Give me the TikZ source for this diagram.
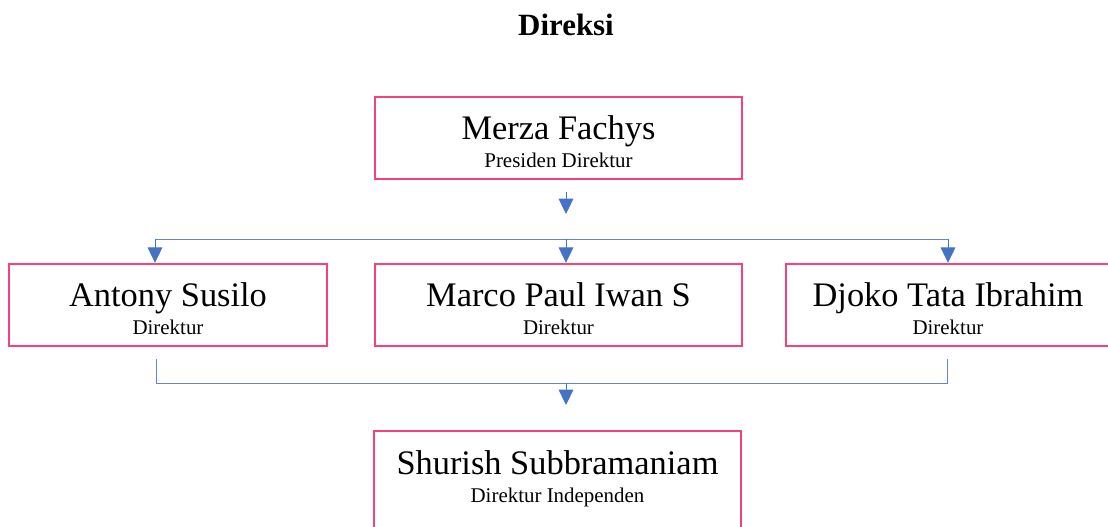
\documentclass[tikz,border=0pt]{standalone}
\usepackage{fontspec}
\setmainfont{Liberation Serif}
\usetikzlibrary{arrows.meta}

\definecolor{boxpink}{HTML}{F7407E}
\definecolor{linkblue}{HTML}{4472C4}

\newcommand{\rolefont}{\fontsize{15.7}{21}\selectfont}
\newcommand{\person}[3][3.5pt]{\rule{0pt}{26pt}#2\\{\rolefont #3\rule[-#1]{0pt}{#1}}}

\tikzstyle{block}=[rectangle,draw=boxpink,line width=1.8pt,fill=white,align=center,
font=\fontsize{25.8}{21}\selectfont,minimum width=275.25pt,minimum height=61.5pt,inner sep=0pt]
\tikzstyle{line} = [draw, line width=0.75pt, color=linkblue!85]
\tikzstyle{arrow} = [line, color=linkblue, -{Triangle[width=11pt,length=11.5pt]}]
\tikzstyle{title} = [anchor=base, font=\fontsize{23.2}{28}\selectfont\bfseries]

\begin{document}
\begin{tikzpicture}[x=0.75pt,y=-0.75pt]
\useasboundingbox (0,0) rectangle (1108,526);
\clip (0,0) rectangle (1108,526);
\node [title] (heading) at (566,35) {Direksi};
\node [block] (president) at (558.5,138) {\person{Merza Fachys}{Presiden Direktur}};
\node [block,minimum width=238.5pt] (antony) at (168,305) {\person{Antony Susilo}{Direktur}};
\node [block] (marco) at (558.5,305) {\person{Marco Paul Iwan S}{Direktur}};
\node [block,minimum width=243pt] (djoko) at (948,305) {\person{Djoko Tata Ibrahim}{Direktur}};
\node [block,minimum height=93.75pt] (shurish) at (557.5,493.5) {\person[32.8pt]{Shurish Subbramaniam}{Direktur Independen}};
\coordinate (downA) at (566,192);
\coordinate (downB) at (566,214);
\coordinate (busL) at (155,239);
\coordinate (busM) at (566,239);
\coordinate (busR) at (948,239);
\coordinate (joinL) at (156,359);
\coordinate (joinR) at (947,359);
\coordinate (joinM) at (566,383);
\coordinate (joinT) at (566,405);
\path [arrow] (downA) -- (downB);
\path [line] (busL) -- (busR);
\path [arrow] (busL) -- (busL |- antony.north);
\path [arrow] (busM) -- (busM |- marco.north);
\path [arrow] (busR) -- (busR |- djoko.north);
\path [line] (joinL) -- (joinL |- joinM) -- (joinR |- joinM) -- (joinR);
\path [arrow] (joinM) -- (joinT);
\end{tikzpicture}
\end{document}
